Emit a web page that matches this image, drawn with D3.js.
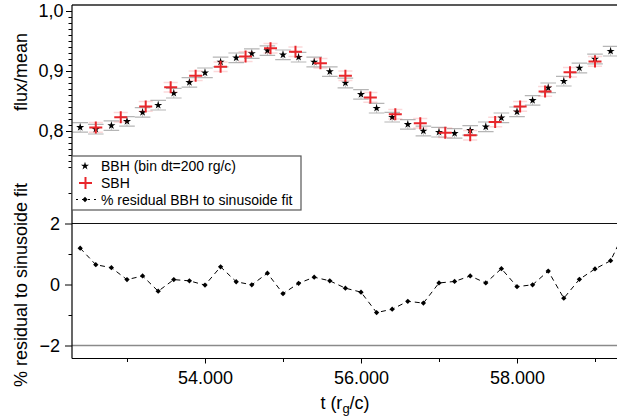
<!DOCTYPE html>
<html>
<head>
<meta charset="utf-8">
<script src="https://cdn.jsdelivr.net/npm/d3@7"></script>
<style>
  body { margin: 0; background: #fff; }
  text { font-family: "Liberation Sans", Arial, Helvetica, sans-serif; fill: #000; }
</style>
</head>
<body>
<svg id="chart" width="617" height="416"></svg>
<script>
// BBH light curve, bin dt = 200 rg/c
const bbhTime = [52400, 52600, 52800, 53000, 53200, 53400, 53600, 53800, 54000, 54200,
  54400, 54600, 54800, 55000, 55200, 55400, 55600, 55800, 56000, 56200,
  56400, 56600, 56800, 57000, 57200, 57400, 57600, 57800, 58000, 58200,
  58400, 58600, 58800, 59000, 59200]
const bbhFlux = [0.806, 0.803, 0.809, 0.816, 0.831, 0.843, 0.863, 0.881, 0.897, 0.915,
  0.922, 0.929, 0.934, 0.927, 0.923, 0.915, 0.899, 0.880, 0.861, 0.838,
  0.823, 0.811, 0.800, 0.798, 0.796, 0.801, 0.807, 0.822, 0.832, 0.851,
  0.872, 0.883, 0.905, 0.920, 0.933]
const bbhErr = 0.008

// SBH light curve
const sbhTime = [52600, 52920, 53240, 53560, 53880, 54200, 54520, 54840, 55160, 55480,
  55800, 56120, 56440, 56760, 57080, 57400, 57720, 58040, 58360, 58680, 59000]
const sbhFlux = [0.806, 0.823, 0.841, 0.873, 0.892, 0.907, 0.924, 0.938, 0.932, 0.913,
  0.892, 0.856, 0.828, 0.813, 0.797, 0.793, 0.815, 0.841, 0.866, 0.898, 0.916]
const sbhErr = 0.008

// % residual BBH to sinusoide fit
const resTime = bbhTime.concat([59400])
const resValue = [1.19, 0.65, 0.55, 0.16, 0.28, -0.22, 0.16, 0.12, -0.02, 0.58,
  0.09, -0.01, 0.37, -0.30, 0.04, 0.24, 0.12, -0.12, -0.25, -0.92,
  -0.81, -0.55, -0.61, 0.05, 0.10, 0.28, 0.05, 0.52, -0.07, -0.01,
  0.44, -0.45, 0.17, 0.51, 0.78, 1.85]

// ticks
const xMajor = [54000, 56000, 58000]
const xMinor = [53000, 55000, 57000, 59000]
const fluxMajor = [0.8, 0.9, 1.0]
const fluxMinor = [0.74, 0.75, 0.76, 0.77, 0.78, 0.79, 0.81, 0.82, 0.83, 0.84, 0.85, 0.86,
  0.87, 0.88, 0.89, 0.91, 0.92, 0.93, 0.94, 0.95, 0.96, 0.97, 0.98, 0.99]
const resMajor = [-2, 0, 2]
const resMinor = [-1, 1, 3]

const legendItems = ['BBH (bin dt=200 rg/c)', 'SBH', '% residual BBH to sinusoide fit']

const plotLeft = 72, plotRight = 617, plotTop = 5, plotBottom = 358.5
const red = '#e8262b'

const svg = d3.select('#chart')

const x = d3.scaleLinear().domain([52295, 59282]).range([plotLeft, plotRight])
const yFlux = d3.scaleLinear().domain([0.74, 1.0]).range([167, 11])
const yRes = d3.scaleLinear().domain([-2, 2]).range([345.5, 223.5])

svg.append('defs').append('clipPath').attr('id', 'plot')
  .append('rect').attr('x', plotLeft).attr('y', plotTop)
  .attr('width', plotRight - plotLeft).attr('height', plotBottom - plotTop)

const plot = svg.append('g').attr('clip-path', 'url(#plot)')

/** 残差面板的 ±2 参考线 */
plot.append('line').attr('x1', plotLeft).attr('x2', plotRight)
  .attr('y1', yRes(2)).attr('y2', yRes(2)).attr('stroke', '#111').attr('stroke-width', 1.2)
plot.append('line').attr('x1', plotLeft).attr('x2', plotRight)
  .attr('y1', yRes(-2)).attr('y2', yRes(-2)).attr('stroke', '#8a8a8a').attr('stroke-width', 1.6)

/** BBH 误差棒 + 星号 */
const halfBin = 100
const bbh = plot.append('g')
bbhTime.forEach((t, i) => {
  const g = bbh.append('g')
  const v = bbhFlux[i]
  g.append('line').attr('x1', x(t)).attr('x2', x(t))
    .attr('y1', yFlux(v - bbhErr)).attr('y2', yFlux(v + bbhErr))
    .attr('stroke', '#bdbdbd').attr('stroke-width', 1)
  ;[v - bbhErr, v + bbhErr].forEach(e => {
    g.append('line').attr('x1', x(t - halfBin)).attr('x2', x(t + halfBin))
      .attr('y1', yFlux(e)).attr('y2', yFlux(e))
      .attr('stroke', '#b5b5b5').attr('stroke-width', 1.2)
  })
})

/** SBH 误差棒 (淡红) */
const sbh = plot.append('g')
sbhTime.forEach((t, i) => {
  const v = sbhFlux[i]
  ;[v - sbhErr, v + sbhErr].forEach(e => {
    sbh.append('line').attr('x1', x(t - 90)).attr('x2', x(t + 90))
      .attr('y1', yFlux(e)).attr('y2', yFlux(e))
      .attr('stroke', red).attr('stroke-opacity', 0.18).attr('stroke-width', 1.5)
  })
})

bbh.selectAll('path.star').data(bbhTime).enter().append('path')
  .attr('class', 'star')
  .attr('d', d3.symbol(d3.symbolStar, 20)())
  .attr('transform', (t, i) => `translate(${x(t)},${yFlux(bbhFlux[i])})`)
  .attr('fill', '#000')

/** SBH 红色十字 */
sbhTime.forEach((t, i) => {
  const cx = x(t), cy = yFlux(sbhFlux[i])
  sbh.append('line').attr('x1', cx - 6.5).attr('x2', cx + 6.5).attr('y1', cy).attr('y2', cy)
    .attr('stroke', red).attr('stroke-width', 2)
  sbh.append('line').attr('x1', cx).attr('x2', cx).attr('y1', cy - 6).attr('y2', cy + 6)
    .attr('stroke', red).attr('stroke-width', 2)
})

/** 残差虚线 + 菱形 */
const resLine = d3.line().x((d, i) => x(resTime[i])).y(d => yRes(d))
plot.append('path').datum(resValue)
  .attr('d', resLine)
  .attr('fill', 'none').attr('stroke', '#000').attr('stroke-width', 1)
  .attr('stroke-dasharray', '5,4')
plot.selectAll('path.dia').data(resValue).enter().append('path')
  .attr('class', 'dia')
  .attr('d', d3.symbol(d3.symbolSquare, 14)())
  .attr('transform', (d, i) => `translate(${x(resTime[i])},${yRes(d)}) rotate(45)`)
  .attr('fill', '#000')

/** 上边框 */
svg.append('line').attr('x1', plotLeft).attr('x2', plotRight).attr('y1', plotTop).attr('y2', plotTop)
  .attr('stroke', '#222').attr('stroke-width', 1.5)

/** 坐标轴 */
function styleAxis(g) {
  g.select('.domain').remove()
  g.selectAll('line').attr('stroke', '#000')
  g.selectAll('text').attr('font-size', 18).attr('font-family', '"Liberation Sans", Arial, sans-serif')
}

const fluxFmt = d => d.toFixed(1).replace('.', ',')
svg.append('g').attr('transform', `translate(${plotLeft},0)`)
  .call(d3.axisLeft(yFlux).tickValues(fluxMajor).tickFormat(fluxFmt).tickSize(6).tickPadding(2.5))
  .call(styleAxis)
svg.append('g').attr('transform', `translate(${plotLeft},0)`)
  .call(d3.axisLeft(yFlux).tickValues(fluxMinor).tickFormat('').tickSize(3.5))
  .call(styleAxis)

const resFmt = d => d < 0 ? '\u2212' + Math.abs(d) : String(d)
svg.append('g').attr('transform', `translate(${plotLeft},0)`)
  .call(d3.axisLeft(yRes).tickValues(resMajor).tickFormat(resFmt).tickSize(7).tickPadding(5))
  .call(styleAxis)
svg.append('g').attr('transform', `translate(${plotLeft},0)`)
  .call(d3.axisLeft(yRes).tickValues(resMinor).tickFormat('').tickSize(3.5))
  .call(styleAxis)

const xFmt = d => d3.format(',')(d).replace(',', '.')
svg.append('g').attr('transform', `translate(0,${plotBottom})`)
  .call(d3.axisBottom(x).tickValues(xMajor).tickFormat(xFmt).tickSize(5).tickPadding(7.5))
  .call(styleAxis)
svg.append('g').attr('transform', `translate(0,${plotBottom})`)
  .call(d3.axisBottom(x).tickValues(xMinor).tickFormat('').tickSize(3.5))
  .call(styleAxis)

svg.append('line').attr('x1', plotLeft).attr('x2', plotLeft).attr('y1', plotTop).attr('y2', plotBottom)
  .attr('stroke', '#000').attr('stroke-width', 1.2)
svg.append('line').attr('x1', plotLeft).attr('x2', plotRight).attr('y1', plotBottom).attr('y2', plotBottom)
  .attr('stroke', '#000').attr('stroke-width', 1.2)

/** 图例 */
const legend = svg.append('g')
legend.append('rect').attr('x', plotLeft).attr('y', 156).attr('width', 229).attr('height', 54)
  .attr('fill', '#fff').attr('stroke', '#555').attr('stroke-width', 1.2)
const rowY = [166, 183, 199.5]
legend.append('path').attr('d', d3.symbol(d3.symbolStar, 20)())
  .attr('transform', `translate(85,${rowY[0]})`).attr('fill', '#000')
legend.append('line').attr('x1', 79).attr('x2', 92).attr('y1', rowY[1]).attr('y2', rowY[1])
  .attr('stroke', red).attr('stroke-width', 2)
legend.append('line').attr('x1', 85.5).attr('x2', 85.5).attr('y1', rowY[1] - 6).attr('y2', rowY[1] + 6)
  .attr('stroke', red).attr('stroke-width', 2)
legend.append('line').attr('x1', 75).attr('x2', 96).attr('y1', rowY[2]).attr('y2', rowY[2])
  .attr('stroke', '#000').attr('stroke-dasharray', '2,4').attr('stroke-dashoffset', -1)
legend.append('path').attr('d', d3.symbol(d3.symbolSquare, 14)())
  .attr('transform', `translate(85,${rowY[2]}) rotate(45)`).attr('fill', '#000')
legend.selectAll('text.item').data(legendItems).enter().append('text')
  .attr('class', 'item')
  .attr('x', 101).attr('y', (d, i) => rowY[i] + 5)
  .attr('font-size', 14)
  .text(d => d)

/** 轴标题 */
svg.append('text').attr('transform', 'translate(27,72) rotate(-90)')
  .attr('text-anchor', 'middle').attr('font-size', 18).text('flux/mean')
svg.append('text').attr('transform', 'translate(27,285) rotate(-90)')
  .attr('text-anchor', 'middle').attr('font-size', 18).text('% residual to sinusoide fit')

const xTitle = svg.append('text').attr('x', 345).attr('y', 409)
  .attr('text-anchor', 'middle').attr('font-size', 18)
xTitle.append('tspan').text('t (r')
xTitle.append('tspan').attr('dy', 4).attr('font-size', 13).text('g')
xTitle.append('tspan').attr('dy', -4).text('/c)')
</script>
</body>
</html>
